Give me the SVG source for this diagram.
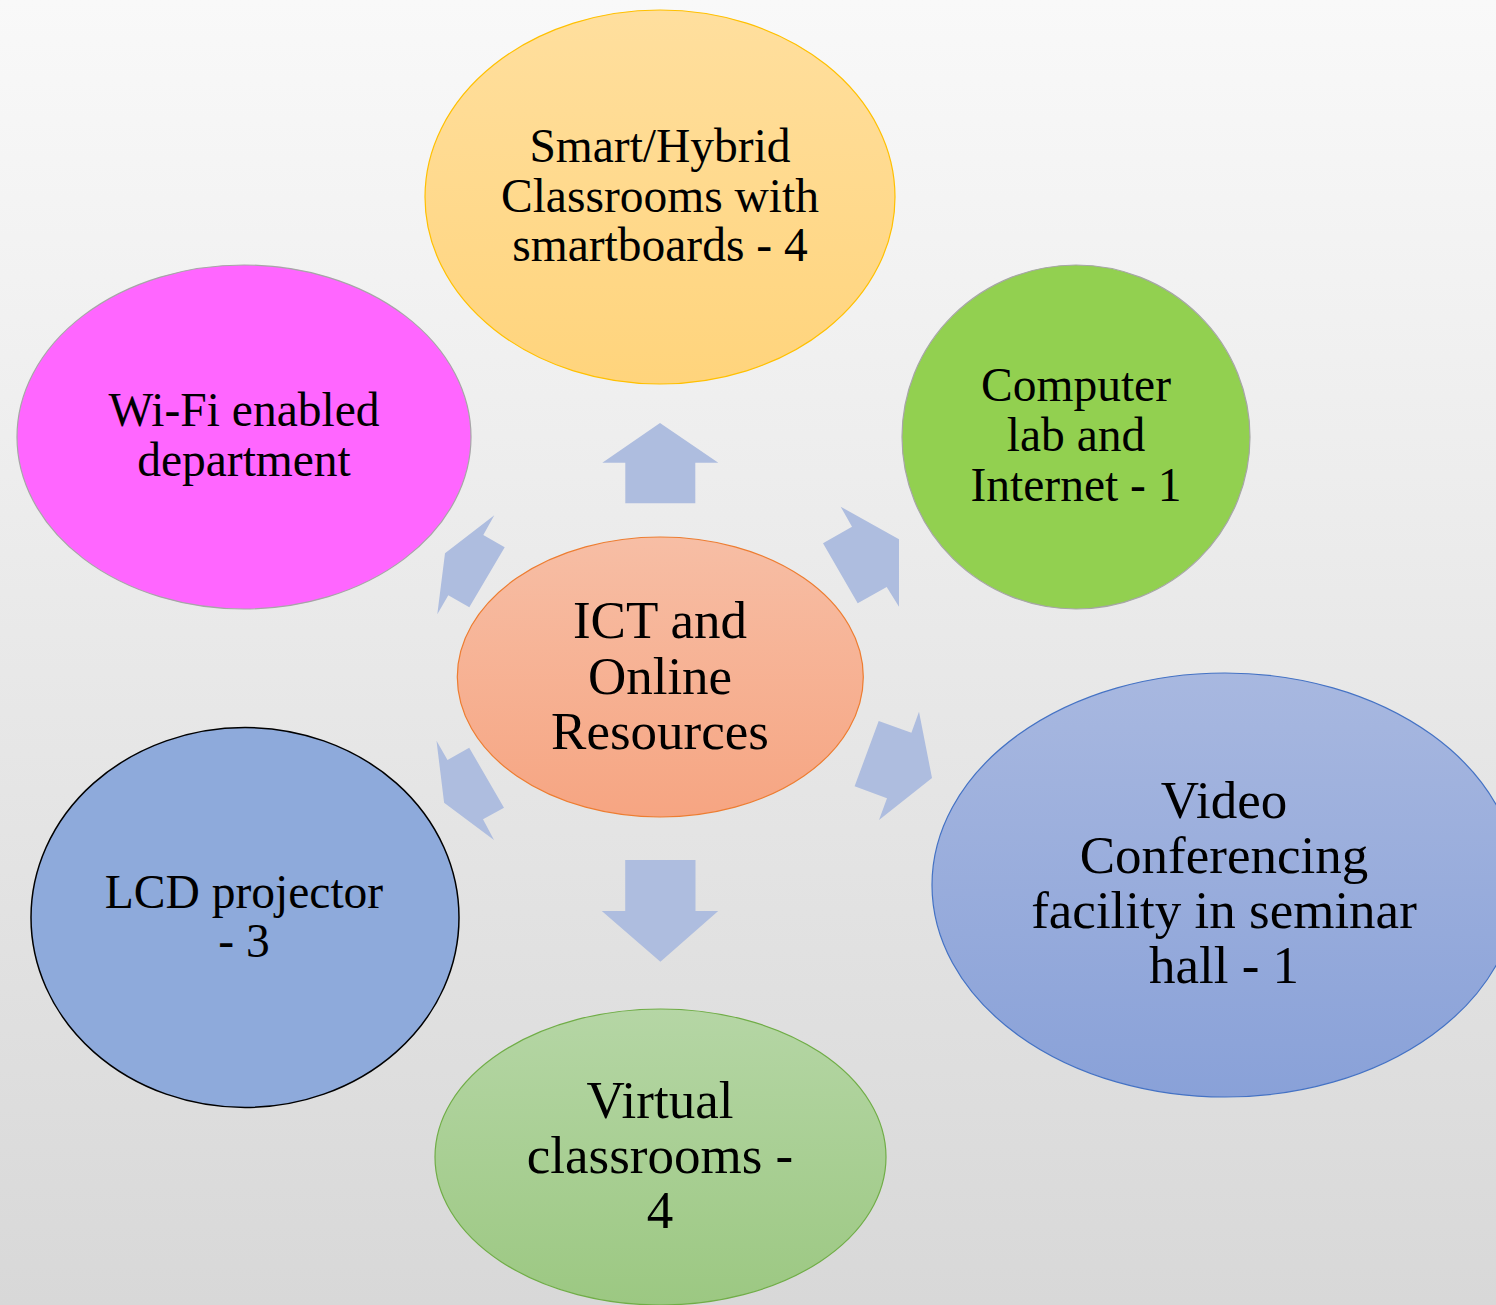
<svg xmlns="http://www.w3.org/2000/svg" width="1496" height="1305" viewBox="0 0 1496 1305">
<defs>
<linearGradient id="bg" x1="0" y1="0" x2="0" y2="1"><stop offset="0" stop-color="#f9f9f9"/><stop offset="1" stop-color="#d8d8d8"/></linearGradient>
<linearGradient id="gOrange" x1="0" y1="0" x2="0" y2="1"><stop offset="0" stop-color="#ffdf9e"/><stop offset="1" stop-color="#ffd47c"/></linearGradient>
<linearGradient id="gCenter" x1="0" y1="0" x2="0" y2="1"><stop offset="0" stop-color="#f7bea5"/><stop offset="1" stop-color="#f6a582"/></linearGradient>
<linearGradient id="gVideo" x1="0" y1="0" x2="0" y2="1"><stop offset="0" stop-color="#a8b8e0"/><stop offset="1" stop-color="#89a1d8"/></linearGradient>
<linearGradient id="gVirtual" x1="0" y1="0" x2="0" y2="1"><stop offset="0" stop-color="#b5d6a5"/><stop offset="1" stop-color="#9cc882"/></linearGradient>
</defs>
<style>
text{font-family:"Liberation Serif","Times New Roman",serif;fill:#000;text-anchor:middle}
.s{font-size:47.5px}
.l{font-size:53px}
.arrow{fill:#aebddf}
</style>
<rect x="0" y="0" width="1496" height="1305" fill="url(#bg)"/>
<g id="connectors">
<polygon class="arrow" points="660,423 718.3,462.7 695.3,462.7 695.3,503.3 625.3,503.3 625.3,462.7 602.3,462.7"/>
<polygon class="arrow" points="445,553.3 494.3,515.3 483.3,535 504.7,547.3 469.3,607.3 448.3,595.3 437.3,614.3"/>
<polygon class="arrow" points="840.7,506.7 899,539.3 899,606.7 886.7,587 857.7,603.3 823,543.3 852,526.7"/>
<polygon class="arrow" points="436.5,740.7 447.5,760 469.2,747.7 504,807.7 483,819.3 494,840 444.1,802.7"/>
<polygon class="arrow" points="919,711.7 932,778 879,820 887,798.3 854.6,786.3 878.7,721 911.4,732.7"/>
<polygon class="arrow" points="625.2,860 695.5,860 695.5,911 718.2,911 660.4,961.7 601.8,911 625.2,911"/>
</g>
<g id="node-smart">
<ellipse cx="660" cy="197" rx="235" ry="187" fill="url(#gOrange)" stroke="#ffc000" stroke-width="1.2"/>
<text class="s" x="660" y="162">Smart/Hybrid</text>
<text class="s" x="660" y="211.5">Classrooms with</text>
<text class="s" x="660" y="260.5">smartboards - 4</text>
</g>
<g id="node-wifi">
<ellipse cx="244" cy="437" rx="227" ry="172" fill="#ff66ff" stroke="#a6a6a6" stroke-width="1.2"/>
<text class="s" x="244" y="426">Wi-Fi enabled</text>
<text class="s" x="244" y="476">department</text>
</g>
<g id="node-computer">
<ellipse cx="1076" cy="437" rx="174" ry="172" fill="#92d050" stroke="#a6a6a6" stroke-width="1.2"/>
<text class="s" x="1076" y="401">Computer</text>
<text class="s" x="1076" y="451">lab and</text>
<text class="s" x="1076" y="500.5">Internet - 1</text>
</g>
<g id="node-center">
<ellipse cx="660.3" cy="677" rx="203" ry="140" fill="url(#gCenter)" stroke="#ed7d31" stroke-width="1.2"/>
<text class="l" x="660" y="638.3">ICT and</text>
<text class="l" x="660" y="694">Online</text>
<text class="l" x="660" y="748.5">Resources</text>
</g>
<g id="node-video">
<ellipse cx="1225" cy="885" rx="293" ry="212" fill="url(#gVideo)" stroke="#4472c4" stroke-width="1.2"/>
<text class="l" x="1224" y="818">Video</text>
<text class="l" x="1224" y="873">Conferencing</text>
<text class="l" x="1224" y="928">facility in seminar</text>
<text class="l" x="1224" y="983">hall - 1</text>
</g>
<g id="node-lcd">
<ellipse cx="245" cy="917.5" rx="214" ry="190" fill="#8eaadb" stroke="#000" stroke-width="1.5"/>
<text class="s" x="244" y="908.3">LCD projector</text>
<text class="s" x="244" y="956.7">- 3</text>
</g>
<g id="node-virtual">
<ellipse cx="660.5" cy="1157" rx="225.5" ry="148" fill="url(#gVirtual)" stroke="#70ad47" stroke-width="1.2"/>
<text class="l" x="660" y="1118.3">Virtual</text>
<text class="l" x="660" y="1173.3">classrooms -</text>
<text class="l" x="660" y="1228.3">4</text>
</g>
</svg>
